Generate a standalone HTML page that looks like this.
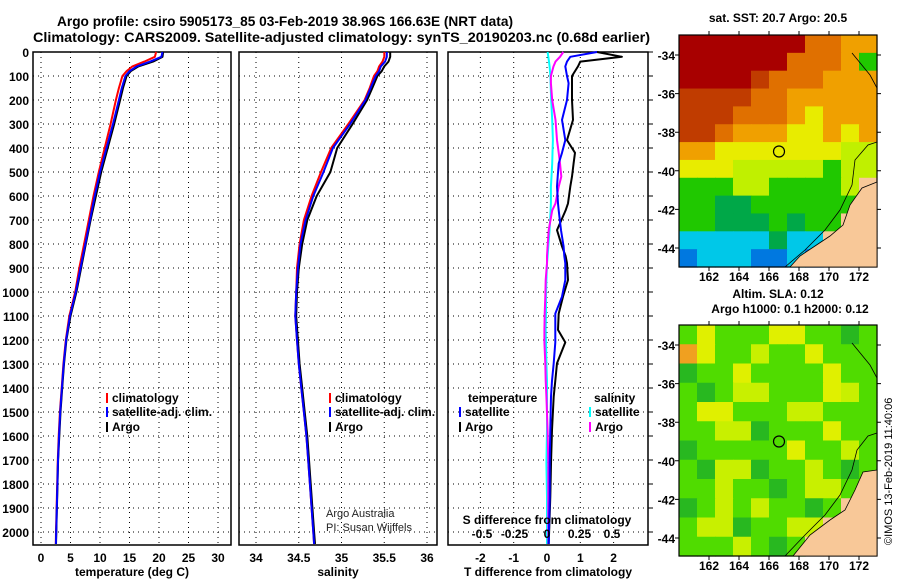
<!DOCTYPE html>
<html><head><meta charset="utf-8"><style>
body{margin:0;background:#fff}
svg{display:block;font-family:"Liberation Sans",Arial,sans-serif}
.t{font-weight:bold;font-size:14px}
.lb{font-weight:bold;font-size:12px}
</style></head><body>
<svg id="s" width="900" height="580" viewBox="0 0 900 580">
<text class="t" x="57" y="26" textLength="456" lengthAdjust="spacingAndGlyphs">Argo profile: csiro 5905173_85 03-Feb-2019 38.96S 166.63E (NRT data)</text>
<text class="t" x="33" y="42" textLength="617" lengthAdjust="spacingAndGlyphs">Climatology: CARS2009. Satellite-adjusted climatology: synTS_20190203.nc (0.68d earlier)</text>
<g id="g"></g>
</svg>
<script>
// ---- data ----
const depthTicks=[0,100,200,300,400,500,600,700,800,900,1000,1100,1200,1300,1400,1500,1600,1700,1800,1900,2000];
const tTicks=[0,5,10,15,20,25,30];
const sTicks=[34,34.5,35,35.5,36];
const dtTicks=[-2,-1,0,1,2];
const dsTicks=[-0.5,-0.25,0,0.25,0.5];
const dsTickLabels=["-0.5","-0.25","0","0.25","0.5"];
const depths=[0,20,40,60,80,100,150,200,300,400,500,600,700,800,900,1000,1100,1200,1300,1400,1500,1600,1700,1800,1900,2000,2050];
const tArgo=[20.7,20.6,19,16.5,15.2,14.5,13.9,13.4,12.4,11.3,10.2,9.3,8.4,7.6,6.8,6.0,5.0,4.3,3.9,3.6,3.3,3.1,2.9,2.8,2.7,2.6,2.55];
const tClim=[19.5,19.3,17.5,15.5,14.5,13.8,13.2,12.7,11.8,10.8,9.8,8.9,8.1,7.3,6.5,5.8,4.8,4.2,3.8,3.5,3.2,3.0,2.85,2.75,2.65,2.55,2.5];
const tSat=[20.6,20.4,18.5,16.2,15,14.3,13.7,13.2,12.2,11.1,10.0,9.1,8.3,7.5,6.7,5.9,4.9,4.25,3.85,3.55,3.25,3.05,2.88,2.78,2.68,2.58,2.53];
const sArgo=[35.57,35.57,35.55,35.5,35.47,35.42,35.36,35.3,35.13,34.95,34.87,34.71,34.6,34.54,34.5,34.48,34.47,34.49,34.51,34.54,34.57,34.6,34.62,34.64,34.66,34.68,34.69];
const sClim=[35.5,35.5,35.48,35.44,35.42,35.38,35.33,35.27,35.08,34.88,34.76,34.65,34.56,34.51,34.48,34.47,34.46,34.48,34.5,34.53,34.56,34.59,34.61,34.63,34.65,34.67,34.68];
const sSat=[35.53,35.53,35.51,35.46,35.44,35.4,35.34,35.28,35.1,34.9,34.79,34.67,34.58,34.52,34.49,34.47,34.46,34.48,34.5,34.53,34.56,34.59,34.61,34.63,34.65,34.67,34.68];
const dDepths=[0,20,40,60,100,130,200,283,367,420,464,519,561,631,660,742,810,850,880,950,1019,1090,1158,1210,1297,1370,1436,1575,1714,1853,2050];
const dtArgo=[1.5,2.25,1.0,0.93,0.75,0.75,0.75,0.78,0.6,0.84,0.8,0.75,0.7,0.63,0.56,0.3,0.45,0.56,0.6,0.63,0.48,0.35,0.33,0.55,0.3,0.25,0.2,0.15,0.12,0.1,0.05];
const dtSat=[1.5,0.7,0.6,0.55,0.6,0.65,0.6,0.45,0.55,0.45,0.35,0.32,0.3,0.33,0.35,0.42,0.5,0.52,0.55,0.55,0.45,0.25,0.25,0.25,0.2,0.15,0.12,0.1,0.08,0.08,0.05];
const dsArgo=[0.125,0.1,0.065,0.05,0.03,0.03,0.04,0.065,0.077,0.09,0.1,0.11,0.09,0.065,0.04,0.013,0.005,0,0,-0.01,-0.013,-0.018,-0.02,-0.02,-0.013,-0.01,-0.005,0.005,0.01,0.01,0.01];
const dsSat=[0.005,0.01,0.015,0.02,0.026,0.028,0.032,0.04,0.045,0.042,0.04,0.035,0.03,0.03,0.028,0.02,0.01,0.005,0,-0.005,-0.008,-0.008,-0.01,-0.008,-0.005,0,0,0,-0.005,0,0];
// ---- helpers ----
const NS="http://www.w3.org/2000/svg",G=document.getElementById('g');
function mk(t,a,txt){const e=document.createElementNS(NS,t);for(const k in a)e.setAttribute(k,a[k]);if(txt!==undefined)e.textContent=txt;G.appendChild(e);return e;}
const Y=d=>52+d*0.24, TOP=52, BOT=545;
const panels=[
 {x0:33,x1:231,sx:v=>41+v*5.9,ticks:tTicks,lab:"temperature (deg C)",name:"temperature-panel"},
 {x0:239,x1:437,sx:v=>256+(v-34)*85.5,ticks:sTicks,lab:"salinity",name:"salinity-panel"},
 {x0:448,x1:648,sx:v=>547+v*33.3,ticks:dtTicks,lab:"T difference from climatology",name:"difference-panel"}];
const dsx=v=>547+v*130;
panels.forEach((p,i)=>{
 let e;
 p.ticks.forEach(v=>{const x=p.sx(v);
  e=mk('line',{x1:x,x2:x,y1:TOP,y2:BOT,stroke:'#000','stroke-width':1,'stroke-dasharray':'1,4'});
  
  
  e=mk('text',{x:x,y:562,'text-anchor':'middle',class:'lb'},String(v));
  
  });
 depthTicks.forEach(d=>{const y=Y(d);
  e=mk('line',{x1:p.x0,x2:p.x1,y1:y,y2:y,stroke:'#000','stroke-width':1,'stroke-dasharray':'1,4'});
  
  });
 e=mk('rect',{x:p.x0,y:TOP,width:p.x1-p.x0,height:BOT-TOP,fill:'none',stroke:'#000','stroke-width':1.5});
 
 
 e=mk('text',{x:(p.x0+p.x1)/2,y:576,'text-anchor':'middle',class:'lb'},p.lab);
 
 
});
depthTicks.forEach(d=>{let e=mk('text',{x:29,y:Y(d)+5,'text-anchor':'end',class:'lb'},String(d));
 
 
 e=mk('line',{x1:648,x2:653,y1:Y(d),y2:Y(d),stroke:'#000'});
 
 });
function line(xs,ds,fx,col,name){const pts=xs.map((v,i)=>fx(v).toFixed(1)+','+Y(ds[i]).toFixed(1)).join(' ');
 const e=mk('polyline',{points:pts,fill:'none',stroke:col,'stroke-width':2,'stroke-linejoin':'round'});
 
 }
const P=panels;
line(tClim,depths,P[0].sx,'#f00','temperature-climatology-line');
line(tArgo,depths,P[0].sx,'#000','temperature-argo-line');
line(tSat,depths,P[0].sx,'#00f','temperature-satellite-line');
line(sClim,depths,P[1].sx,'#f00','salinity-climatology-line');
line(sArgo,depths,P[1].sx,'#000','salinity-argo-line');
line(sSat,depths,P[1].sx,'#00f','salinity-satellite-line');
line(dsSat,dDepths,dsx,'#0ff','s-diff-satellite-line');
line(dsArgo,dDepths,dsx,'#f0f','s-diff-argo-line');
line(dtArgo,dDepths,P[2].sx,'#000','t-diff-argo-line');
line(dtSat,dDepths,P[2].sx,'#00f','t-diff-satellite-line');
dsTicks.forEach((v,i)=>{const e=mk('text',{x:dsx(v),y:538,'text-anchor':'middle',class:'lb'},dsTickLabels[i]);
 
 });
function leg(x,y,col,txt,name){let e=mk('rect',{x:x,y:y-9,width:2,height:10,fill:col});
 
 
 e=mk('text',{x:x+6,y:y,class:'lb'},txt);
 
 }
leg(106,402,'#f00','climatology','legend-climatology');
leg(106,416,'#00f','satellite-adj. clim.','legend-satellite-adj');
leg(106,431,'#000','Argo','legend-argo');
leg(329,402,'#f00','climatology','legend-climatology-2');
leg(329,416,'#00f','satellite-adj. clim.','legend-satellite-adj-2');
leg(329,431,'#000','Argo','legend-argo-2');
leg(459,416,'#00f','satellite','legend-t-satellite');
leg(459,431,'#000','Argo','legend-t-argo');
leg(589,416,'#0ff','satellite','legend-s-satellite');
leg(589,431,'#f0f','Argo','legend-s-argo');
let e=mk('text',{x:468,y:402,class:'lb'},'temperature');
e=mk('text',{x:594,y:402,class:'lb'},'salinity');
e=mk('text',{x:547,y:524,'text-anchor':'middle',class:'lb'},'S difference from climatology');
e=mk('text',{x:326,y:517,'font-size':'11px',fill:'#222'},'Argo Australia');
e=mk('text',{x:326,y:531,'font-size':'11px',fill:'#222'},'PI: Susan Wijffels');
// ---- maps ----
const MX0=679,MX1=877;
const lonTicks=[162,164,166,168,170,172],latTicks=[-34,-36,-38,-40,-42,-44];
const lonX=l=>709+(l-162)*15;
const sstRows=["RRRRRRRooOO","RRRRRRoooOg","RRRRroooOOO","rrrrooOOOOO","rrroooOyOOO","rroOOOyyOyO","OOyyyyyyyYY","yyyYYYYYgYY","gggYYggggYL","ggGGggggggL","ggGGGgGggLL","cccccGccLLL","bcccbbcbLLL"];
const slaRows=["gYgggYYggGg","oYggyggYggg","GggYggggYgg","gGgyygggYyg","gYYgggyyggg","ggyyGgggYgg","GgggggYggyg","gGyyGggygGg","ggyggGgyygL","GgygyggGgLL","gyyGggyyLLL","gggygGgLLLL"];
const cols={R:'#a80000',r:'#c03c00',o:'#e07000',O:'#f0a000',y:'#e8ec00',Y:'#c0f000',g:'#20c800',G:'#00a848',c:'#00c8e8',b:'#0078e0',L:'#f8c898'};
const slaCols={g:'#50dc00',G:'#28b820',y:'#c8f000',Y:'#e0f000',o:'#f0a020',L:'#f8c898'};
function map(y0,y1,rows,pal,latY0,title1,title2,name){
 const ch=(y1-y0)/rows.length,cw=(MX1-MX0)/rows[0].length;
 rows.forEach((r,i)=>[...r].forEach((c,j)=>{const el=mk('rect',{x:MX0+j*cw,y:y0+i*ch,width:cw+0.6,height:ch+0.6,fill:pal[c]});
  
  }));
 let el=mk('rect',{x:MX0,y:y0,width:MX1-MX0,height:y1-y0,fill:'none',stroke:'#000','stroke-width':1.2});
 
 lonTicks.forEach(l=>{const x=lonX(l);
  el=mk('path',{d:`M${x},${y0}v-4M${x},${y1}v4`,stroke:'#000'});});
 latTicks.forEach((t,i)=>{const y=latY0+i*38.6;
  el=mk('text',{x:675,y:y+5,'text-anchor':'end',class:'lb'},String(t));
  el=mk('path',{d:`M${MX0},${y}h-4M${MX1},${y}h4`,stroke:'#000'});});
 el=mk('circle',{cx:779,cy:latY0+2.5*38.6,r:5.5,fill:'none',stroke:'#000','stroke-width':1.2});
 
 el=mk('text',{x:778,y:y0-13-(title2?14:0),'text-anchor':'middle',class:'lb'},title1);
 if(title2){el=mk('text',{x:790,y:y0-12,'text-anchor':'middle',class:'lb'},title2);}
}
map(35,267,sstRows,cols,55,'sat. SST: 20.7 Argo: 20.5',null,'sst-map');
map(325,556,slaRows,slaCols,345,'Altim. SLA: 0.12','Argo h1000: 0.1 h2000: 0.12','sla-map');
// land & coast
e=mk('path',{d:'M877,182 L862,188 L850,205 L843,225 L830,236 L815,246 L800,256 L790,267 L877,267Z',fill:'#f8c898',stroke:'#000','stroke-width':0.8});
e=mk('path',{d:'M877,142 L868,145 L855,160 L852,185 L840,210 L825,230 L805,250 L785,267M852,53 L870,75 L877,88',fill:'none',stroke:'#000','stroke-width':0.8});
e=mk('path',{d:'M877,470 L863,472 L855,490 L845,510 L830,520 L810,535 L793,556 L877,556Z',fill:'#f8c898',stroke:'#000','stroke-width':0.8});
e=mk('path',{d:'M877,433 L868,436 L857,450 L852,470 L840,495 L825,515 L805,535 L785,556M852,343 L870,365 L877,378',fill:'none',stroke:'#000','stroke-width':0.8});
[281,570].forEach(y=>lonTicks.forEach(l=>{const el=mk('text',{x:lonX(l),y:y,'text-anchor':'middle',class:'lb'},String(l));
 
 }));
e=mk('text',{x:0,y:0,transform:'translate(892,545) rotate(-90)','font-size':'11px'},'©IMOS 13-Feb-2019 11:40:06');
</script>
</body></html>
